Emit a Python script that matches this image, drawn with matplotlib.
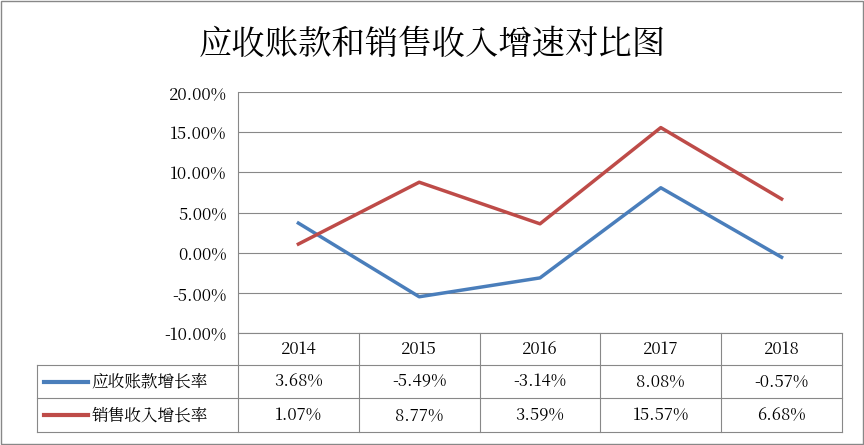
import matplotlib
matplotlib.use("Agg")
import matplotlib.pyplot as plt
from matplotlib import font_manager as fm
from matplotlib.ticker import FuncFormatter

years = ["2014", "2015", "2016", "2017", "2018"]
ar_growth = [3.68, -5.49, -3.14, 8.08, -0.57]
sales_growth = [1.07, 8.77, 3.59, 15.57, 6.68]
series_names = ["应收账款增长率", "销售收入增长率"]
colors = ["#4a7ebb", "#be4b48"]
title = "应收账款和销售收入增速对比图"

cjk = None
for f in fm.fontManager.ttflist:
    if "CJK" in f.name and ("SC" in f.name or cjk is None):
        cjk = f.name
if cjk is None:
    for p in fm.findSystemFonts():
        if "CJK" in p:
            fm.fontManager.addfont(p)
            cjk = fm.FontProperties(fname=p).get_name()
            break
plt.rcParams["font.family"] = [cjk or "Noto Sans CJK SC", "DejaVu Sans"]
plt.rcParams["font.sans-serif"] = [cjk or "Noto Sans CJK SC", "DejaVu Sans"]

fig = plt.figure(figsize=(8.64, 4.45), dpi=100)
W, H = 864, 445
ax = fig.add_axes([238/W, 1-333/H, 604/W, 241/H])
x = list(range(len(years)))
for vals, c in zip([ar_growth, sales_growth], colors):
    ax.plot(x, vals, color=c, lw=2.5)
ax.set_xlim(-0.5, len(years)-0.5)
ax.set_ylim(-10, 20)
ax.set_yticks(range(-10, 21, 5))
ax.yaxis.set_major_formatter(FuncFormatter(lambda v, p: f"{v:.2f}%"))
ax.tick_params(axis="y", length=0, labelsize=12, pad=8)
ax.set_xticks([])
ax.grid(axis="y", color="#888888", lw=0.8)
for s in ["top", "right"]:
    ax.spines[s].set_visible(False)
ax.spines["left"].set_color("#888888")
ax.spines["bottom"].set_color("#888888")
fig.text(0.5, 1-45/H, title, ha="center", va="center", fontsize=24)

ah = 241.0
def ay(py):
    return -py/ah
left = (37-238)/604
rows_y = [0, 32, 65, 99]
kw = dict(transform=ax.transAxes, clip_on=False, color="#888888", lw=0.8)
for ry in rows_y[1:]:
    ax.plot([left, 1], [ay(ry)]*2, **kw)
ax.plot([left, left], [ay(32), ay(99)], **kw)
for i in range(len(years)+1):
    xf = i/len(years)
    ax.plot([xf, xf], [0, ay(99)], **kw)
for i, yr in enumerate(years):
    ax.text((i+0.5)/len(years), ay(16), yr, transform=ax.transAxes, ha="center", va="center", fontsize=12)
for r, (vals, name, c) in enumerate(zip([ar_growth, sales_growth], series_names, colors)):
    yc = ay((rows_y[r+1]+rows_y[r+2])/2)
    ax.plot([left+0.012, left+0.085], [yc, yc], transform=ax.transAxes, clip_on=False, color=c, lw=3)
    ax.text(left+0.09, yc, name, transform=ax.transAxes, ha="left", va="center", fontsize=12)
    for i, v in enumerate(vals):
        ax.text((i+0.5)/len(years), yc, f"{v:.2f}%", transform=ax.transAxes, ha="center", va="center", fontsize=12)

fig.patches.append(plt.Rectangle((1/W, 1/H), 1-2/W, 1-2/H, transform=fig.transFigure, fill=False, ec="#888888", lw=1))
fig.savefig("out.png", dpi=100)
